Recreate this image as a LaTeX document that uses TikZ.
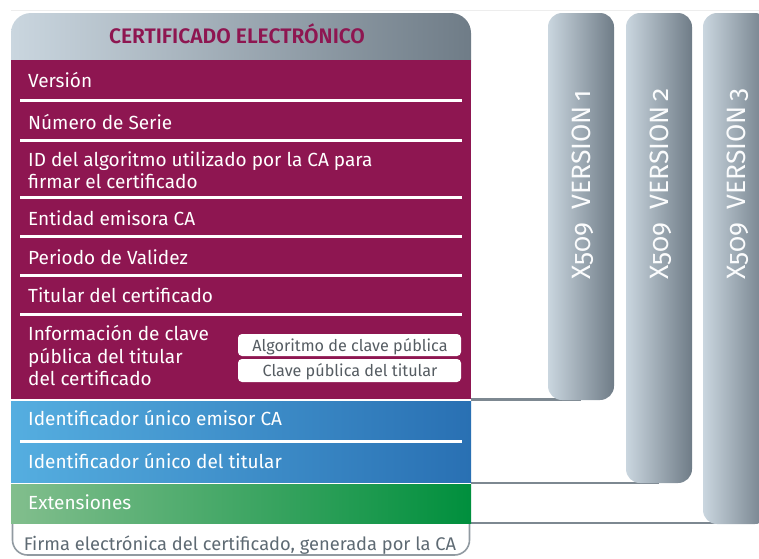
\documentclass[tikz,border=0pt]{standalone}
\usepackage{fontspec}
\setmainfont{Fira Sans}
\newfontfamily\colfont{Fira Sans}[Numbers=OldStyle]
\newfontfamily\semifont{Fira Sans SemiBold}
\definecolor{plum}{HTML}{8E1651}
\definecolor{hdrL}{HTML}{CAD6DF}
\definecolor{hdrR}{HTML}{6F7C87}
\definecolor{blueL}{HTML}{55AEE0}
\definecolor{blueR}{HTML}{2970B3}
\definecolor{greenL}{HTML}{82BE8D}
\definecolor{greenR}{HTML}{008F3D}
\definecolor{linkgray}{HTML}{7D8891}
\definecolor{subtext}{HTML}{555C62}
\definecolor{firmtext}{HTML}{5E6A73}
\begin{document}
\begin{tikzpicture}[x=1pt,y=-1pt,
  lbl/.style={anchor=base west,text=white,inner sep=0pt,font=\fontsize{19}{22}\selectfont},
  sep/.style={white,line width=3pt},
  subbox/.style={fill=white,rounded corners=4pt},
  subtxt/.style={anchor=base,text=subtext,inner sep=0pt,font=\fontsize{16.2}{18}\selectfont},
  colbox/.style={rounded corners=14pt,left color=hdrL,right color=hdrR,draw=none},
  coltxt/.style={anchor=base west,rotate=90,text=white!93!hdrL,inner sep=0pt,font=\colfont\fontsize{26.5}{30}\selectfont},
  link/.style={linkgray,line width=2.5pt}]
\useasboundingbox (0,0) rectangle (759,558);
% faint top rule
\draw[black!7,line width=1pt] (11,10.5) -- (759,10.5);
% connectors (behind columns)
\coordinate (m1) at (471,399.5);
\coordinate (m2) at (471,483);
\coordinate (m3) at (471,523);
\coordinate (c1) at (581,399.5);
\coordinate (c2) at (659,483);
\coordinate (c3) at (736,523);
\draw[link] (m1) -- (c1);
\draw[link] (m2) -- (c2);
\draw[link] (m3) -- (c3);
% version columns
\path[colbox] (548,13) rectangle (614,400);
\path[colbox] (626,13) rectangle (692,483);
\path[colbox] (703,13) rectangle (769,524);
\node[coltxt] (v1) at (590,280) {X509\,\,\,VERSION\,1};
\node[coltxt] (v2) at (668,280) {X509\,\,\,VERSION\,2};
\node[coltxt] (v3) at (745,280) {X509\,\,\,VERSION\,3};
% header
\path[left color=hdrL,right color=hdrR,rounded corners=20pt] (11,13) rectangle (471,90);
\node[anchor=base,text=plum,inner sep=0pt,font=\semifont\fontsize{21}{24}\selectfont] (title) at (237,43.5) {CERTIFICADO ELECTRÓNICO};
% bottom white area with border
\draw[linkgray!85,line width=1.6pt,rounded corners=15pt] (12.5,510) -- (12.5,555) -- (469.5,555) -- (469.5,510);
% purple block
\fill[plum] (11,60) rectangle (471,399);
\foreach \y in {100,140,197,236,275,314} \draw[sep] (20,\y) -- (462,\y);
\node[lbl] (r1) at (28,87) {Versión};
\node[lbl] (r2) at (28,129) {Número de Serie};
\node[lbl] (r3a) at (28,166) {ID del algoritmo utilizado por la CA para};
\node[lbl] (r3b) at (28,188) {firmar el certificado};
\node[lbl] (r4) at (28,225) {Entidad emisora CA};
\node[lbl] (r5) at (28,264) {Periodo de Validez};
\node[lbl] (r6) at (28,302) {Titular del certificado};
\node[lbl] (r7a) at (28,340) {Información de clave};
\node[lbl] (r7b) at (28,363) {pública del titular};
\node[lbl] (r7c) at (28,385) {del certificado};
\path[subbox] (238,334) rectangle (461,356);
\path[subbox] (238,359) rectangle (461,382);
\node[subtxt] (s1) at (350,351) {Algoritmo de clave pública};
\node[subtxt] (s2) at (350,376) {Clave pública del titular};
% blue block
\path[left color=blueL,right color=blueR] (11,401) rectangle (471,482);
\draw[sep] (20,441) -- (462,441);
\node[lbl] (b1) at (28,425) {Identificador único emisor CA};
\node[lbl] (b2) at (28,468) {Identificador único del titular};
% green block
\path[left color=greenL,right color=greenR] (11,484) rectangle (471,523);
\node[lbl] (g1) at (28,509) {Extensiones};
% signature
\node[anchor=base,text=firmtext,inner sep=0pt,font=\fontsize{18.3}{21}\selectfont] (firma) at (240,550) {Firma electrónica del certificado, generada por la CA};
\end{tikzpicture}
\end{document}
